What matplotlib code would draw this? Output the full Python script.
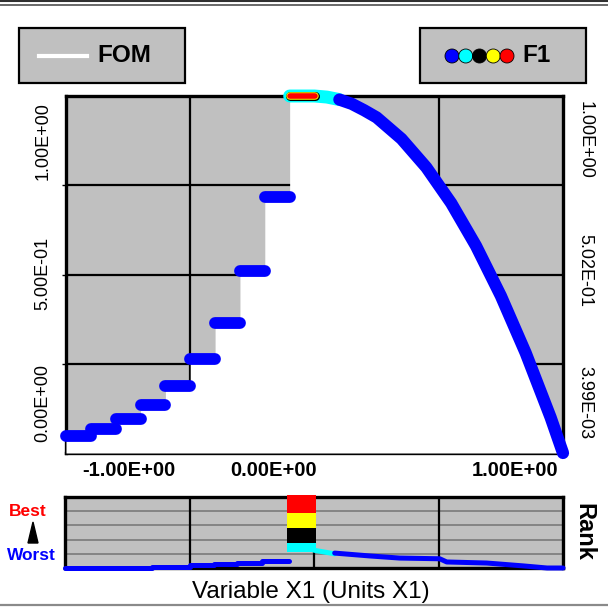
import matplotlib
matplotlib.use("Agg")
import matplotlib.pyplot as plt
from matplotlib.patches import Rectangle, Polygon, Ellipse

plt.rcParams["font.family"] = ["Liberation Sans", "DejaVu Sans"]

# FOM staircase for x < 0 (one level per step)
step_edges = [-1.0, -0.9, -0.8, -0.7, -0.6, -0.5, -0.4, -0.3, -0.2, -0.1, 0.0]
step_fom = [0.048, 0.067, 0.095, 0.134, 0.188, 0.263, 0.364, 0.51, 0.717, 1.0]

# FOM curve for x >= 0
curve_x = [0.0, 0.05, 0.1, 0.15, 0.2, 0.25, 0.3, 0.35, 0.4, 0.45, 0.5,
           0.55, 0.6, 0.65, 0.7, 0.75, 0.8, 0.85, 0.9, 0.95, 1.0]
curve_fom = [1.0, 0.997, 0.99, 0.978, 0.96, 0.94, 0.91, 0.88, 0.84, 0.80, 0.75,
             0.70, 0.64, 0.58, 0.51, 0.44, 0.36, 0.28, 0.19, 0.10, 0.0]

# rank panel (0 = worst, 1 = best)
rank_left_x = [-1.0, -0.65, -0.5, -0.4, -0.31, -0.21, -0.1]
rank_left = [0.0, 0.02, 0.04, 0.056, 0.075, 0.10, 0.10]
rank_cyan_x = [0.0, 0.083]
rank_cyan = [0.25, 0.20]
rank_right_x = [0.083, 0.223, 0.344, 0.505, 0.533, 0.694, 0.839, 0.936, 1.0]
rank_right = [0.21, 0.17, 0.14, 0.13, 0.085, 0.07, 0.03, 0.0, 0.0]
band_colors = ["#ff0000", "#ffff00", "#000000", "#00ffff"]
band_bottom = [0.77, 0.56, 0.35, 0.22]
band_top = [1.03, 0.77, 0.56, 0.35]

xtick_labels = ["-1.00E+00", "0.00E+00", "1.00E+00"]
ylabels_left = ["1.00E+00", "5.00E-01", "0.00E+00"]
ylabels_right = ["1.00E+00", "5.02E-01", "3.99E-03"]

BLUE = "#0000ff"
CYAN = "#00ffff"
GREY = "#c0c0c0"
W, H = 608, 615

fig = plt.figure(figsize=(W / 100, H / 100), dpi=100)


def box(l, t, r, b):
    return [l / W, 1 - b / H, (r - l) / W, (b - t) / H]


# ---- main plot
ax = fig.add_axes(box(66, 96, 563, 453))
ax.set_facecolor(GREY)
ax.set_xlim(-1, 1)
ax.set_ylim(0, 1)
ax.set_xticks([-0.5, 0, 0.5])
ax.set_yticks([0.25, 0.5, 0.75])
ax.set_axisbelow(True)
ax.grid(True, color="black", lw=1.6)
ax.tick_params(axis="x", length=0, labelbottom=False)
ax.tick_params(axis="y", length=3, width=1, labelleft=False)
for side in ["left", "top", "right", "bottom"]:
    ax.spines[side].set_linewidth(2.4)

fill_x, fill_y = [], []
for i, v in enumerate(step_fom):
    fill_x += [step_edges[i], step_edges[i + 1]]
    fill_y += [v, v]
fill_x += curve_x
fill_y += curve_fom
ax.fill_between(fill_x, 0, fill_y, color="white", lw=0, zorder=2.6)

for i in range(len(step_fom) - 1):
    ax.plot([step_edges[i], step_edges[i + 1]], [step_fom[i]] * 2, color=BLUE,
            lw=8.5, solid_capstyle="round", clip_on=False, zorder=4)

# best region: flat top step + start of curve
top_x = [step_edges[-2], step_edges[-1]] + curve_x[1:3]
top_y = [step_fom[-1], step_fom[-1]] + curve_fom[1:3]
ax.plot(top_x, top_y, color=CYAN, lw=9.3, solid_capstyle="round",
        solid_joinstyle="round", clip_on=False, zorder=4)
ax.plot(curve_x[2:], curve_fom[2:], color=BLUE, lw=8.8, solid_capstyle="round",
        solid_joinstyle="round", clip_on=False, zorder=4.2)
for c, lw in [("black", 6.5), ("#ffff00", 5.4), ("#ff0000", 4.0)]:
    ax.plot(top_x[:2], top_y[:2], color=c, lw=lw, solid_capstyle="round",
            clip_on=False, zorder=5)

# ---- rank panel
rk = fig.add_axes(box(65, 497, 563, 568))
rk.set_facecolor(GREY)
rk.set_xlim(-1, 1)
rk.set_ylim(0, 1)
rk.set_xticks([])
rk.set_yticks([])
for yy in [0.2, 0.4, 0.6, 0.8]:
    rk.axhline(yy, color="#7a7a7a", lw=1.2, zorder=0.5)
for xx in [-0.5, 0, 0.5]:
    rk.axvline(xx, color="black", lw=1.6, zorder=0.6)
for side in ["left", "top", "right", "bottom"]:
    rk.spines[side].set_linewidth(2.4)

rk.bar([-0.05] * 4, [t - b for t, b in zip(band_top, band_bottom)], bottom=band_bottom,
       width=0.12, color=band_colors, lw=0, clip_on=False, zorder=4)
rk.plot(rank_left_x, rank_left, color=BLUE, lw=3.6, drawstyle="steps-post",
        solid_capstyle="round", clip_on=False, zorder=4)
rk.plot(rank_cyan_x, rank_cyan, color=CYAN, lw=3.6, solid_capstyle="round",
        clip_on=False, zorder=4)
rk.plot(rank_right_x, rank_right, color=BLUE, lw=3.6, solid_capstyle="round",
        clip_on=False, zorder=4)

# ---- overlay in pixel coordinates for labels / legend boxes
ov = fig.add_axes([0, 0, 1, 1])
ov.set_xlim(0, W)
ov.set_ylim(H, 0)
ov.axis("off")

ov.plot([0, W], [1, 1], color="#303030", lw=1.5)
ov.plot([0, W], [4.5, 4.5], color="#505050", lw=1.2)
ov.plot([0, W], [605, 605], color="#8a8a8a", lw=1.6)

ov.add_patch(Rectangle((19, 28), 166, 55, facecolor=GREY, edgecolor="black", lw=1.6))
ov.add_patch(Rectangle((420, 28), 166, 55, facecolor=GREY, edgecolor="black", lw=1.6))
ov.plot([39, 87], [56, 56], color="white", lw=3)
ov.text(97, 56, "FOM", fontsize=17.5, fontweight="bold", va="center", ha="left")
for k, c in enumerate([BLUE, CYAN, "black", "#ffff00", "#ff0000"]):
    ov.add_patch(Ellipse((452 + 13.75 * k, 56), 14, 14, facecolor=c,
                         edgecolor="black", lw=0.6))
ov.text(522, 56, "F1", fontsize=17.5, fontweight="bold", va="center", ha="left")

for xc, t in zip([129, 274, 515], xtick_labels):
    ov.text(xc, 470, t, fontsize=14.5, fontweight="bold", ha="center", va="center")
for yc, t in zip([141, 273, 403], ylabels_left):
    ov.text(43, yc, t, fontsize=13, rotation=90, ha="center", va="center")
for yc, t in zip([140, 271, 403], ylabels_right):
    ov.text(585, yc, t, fontsize=13, rotation=-90, ha="center", va="center")

ov.text(28, 511.5, "Best", color="#ff0000", fontsize=12.5, fontweight="bold",
        ha="center", va="center")
ov.text(31, 555, "Worst", color=BLUE, fontsize=12.5, fontweight="bold",
        ha="center", va="center")
ov.add_patch(Polygon([(28, 543), (38, 543), (33, 522)], color="black"))
ov.text(584, 532, "Rank", fontsize=17, fontweight="bold", rotation=-90,
        ha="center", va="center")
ov.text(311, 592, "Variable X1 (Units X1)", fontsize=17.5, ha="center", va="center")

fig.savefig("out.png", dpi=100)
